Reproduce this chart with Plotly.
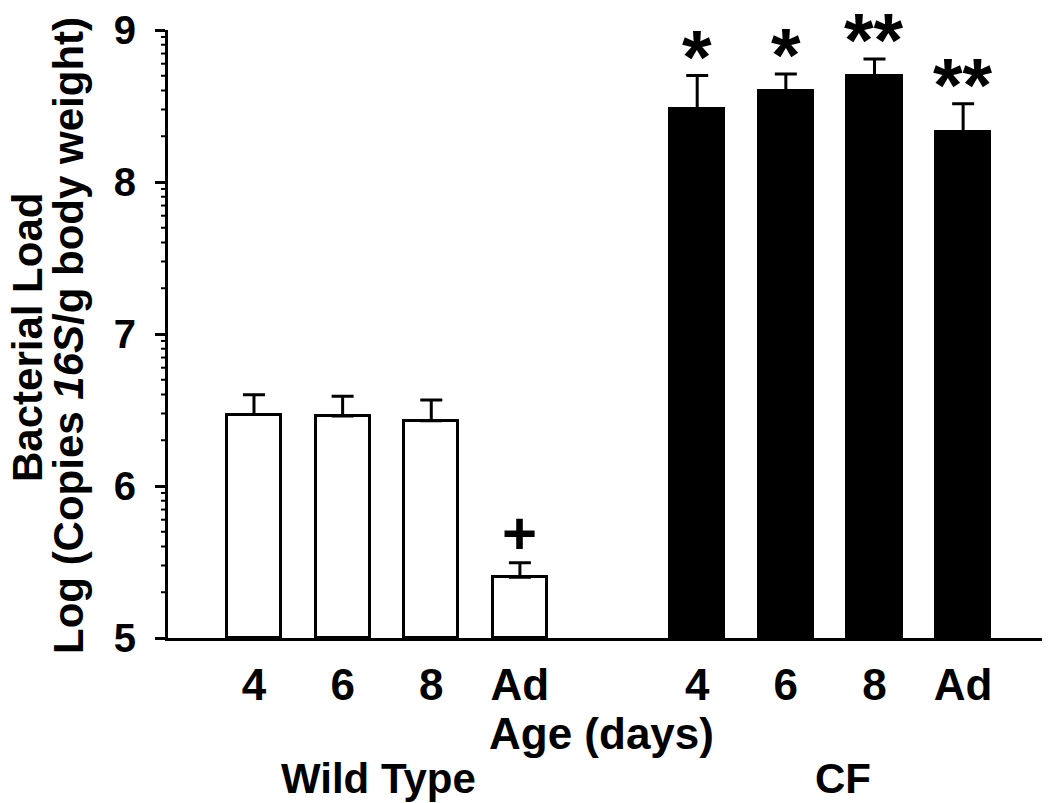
import math

import plotly.graph_objects as go

# Bacterial load, log10 copies 16S / g body weight
AGES = ["4", "6", "8", "Ad"]
WT_POS = [0, 1, 2, 3]
CF_POS = [5, 6, 7, 8]
WT_MEAN = [6.47, 6.46, 6.43, 5.40]
WT_SEM = [0.13, 0.13, 0.135, 0.095]
CF_MEAN = [8.48, 8.60, 8.70, 8.33]
CF_SEM = [0.22, 0.11, 0.11, 0.185]
WT_MARKS = ["", "", "", "+"]
CF_MARKS = ["*", "*", "**", "**"]

Y_MAJOR = [5, 6, 7, 8, 9]
# log-style minor ticks between each integer
Y_MINOR = [b + math.log10(k) for b in Y_MAJOR[:-1] for k in range(2, 10)]

FONT = "Arial, 'Liberation Sans', Helvetica, sans-serif"
FS = 44

# the page body adds an 8px margin, so the figure is 8px smaller than the window
W, H = 1042, 795

fig = go.Figure()

for pos, mean, sem, fill in [(WT_POS, WT_MEAN, WT_SEM, "white"), (CF_POS, CF_MEAN, CF_SEM, "black")]:
    fig.add_trace(go.Bar(
        x=pos, y=[m - 5 for m in mean], base=5, width=0.61,
        marker=dict(color=fill, line=dict(color="black", width=3)),
        error_y=dict(type="data", array=sem, arrayminus=[0] * len(sem), symmetric=False,
                     color="black", thickness=3, width=11),
        showlegend=False, hoverinfo="skip",
    ))

# significance marks above the error bars
for pos, mean, sem, marks in [(WT_POS, WT_MEAN, WT_SEM, WT_MARKS), (CF_POS, CF_MEAN, CF_SEM, CF_MARKS)]:
    for x, m, s, t in zip(pos, mean, sem, marks):
        if not t:
            continue
        star = t.startswith("*")
        fig.add_annotation(
            x=x, y=m + s, xref="x", yref="y", text=f"<b>{t}</b>", showarrow=False,
            yanchor="bottom", yshift=-25 if star else -6,
            font=dict(family=FONT, size=76 if star else 60, color="black"),
        )

# minor ticks on the y axis (plotly's minor ticks don't mix with array major ticks)
for v in Y_MINOR:
    fig.add_shape(type="line", xref="paper", yref="y", xsizemode="pixel", xanchor=0,
                  x0=-7, x1=0, y0=v, y1=v, line=dict(color="black", width=2))

# x-axis titles
fig.add_annotation(x=3.92, y=0, xref="x", yref="paper", text="<b>Age (days)</b>", showarrow=False,
                   yanchor="middle", yshift=-95, font=dict(family=FONT, size=FS, color="black"))
fig.add_annotation(x=1.40, y=0, xref="x", yref="paper", text="<b>Wild Type</b>", showarrow=False,
                   yanchor="middle", yshift=-140, font=dict(family=FONT, size=42, color="black"))
fig.add_annotation(x=6.65, y=0, xref="x", yref="paper", text="<b>CF</b>", showarrow=False,
                   yanchor="middle", yshift=-140, font=dict(family=FONT, size=42, color="black"))

# y-axis title, two tightly spaced lines
fig.add_annotation(x=0, y=0.5, xref="paper", yref="paper", text="<b>Bacterial Load</b>", showarrow=False,
                   textangle=-90, xanchor="center", yanchor="middle", xshift=-141, yshift=-4,
                   font=dict(family=FONT, size=42, color="black"))
fig.add_annotation(x=0, y=0.5, xref="paper", yref="paper",
                   text="<b>Log (Copies <i>16S</i>/g body weight)</b>", showarrow=False,
                   textangle=-90, xanchor="center", yanchor="middle", xshift=-100, yshift=-2,
                   font=dict(family=FONT, size=42, color="black"))

fig.update_xaxes(
    range=[-0.97, 8.98], tickvals=WT_POS + CF_POS, ticktext=[f"<b>{a}</b>" for a in AGES * 2],
    showline=True, linewidth=3, linecolor="black", ticks="", ticklabelstandoff=6,
    showgrid=False, zeroline=False, tickfont=dict(family=FONT, size=FS, color="black"),
)
fig.update_yaxes(
    range=[5, 9], tickvals=Y_MAJOR, ticktext=[f"<b>{v}</b>" for v in Y_MAJOR],
    showline=True, linewidth=3, linecolor="black", ticks="outside", ticklen=10, tickwidth=3,
    tickcolor="black", showgrid=False, zeroline=False, ticklabelstandoff=11,
    ticklabeloverflow="allow", tickfont=dict(family=FONT, size=40, color="black"),
)
fig.update_layout(
    width=W, height=H, plot_bgcolor="white", paper_bgcolor="white",
    margin=dict(l=160, r=0, t=18, b=165), bargap=0,
)
fig.write_html("out.html")
